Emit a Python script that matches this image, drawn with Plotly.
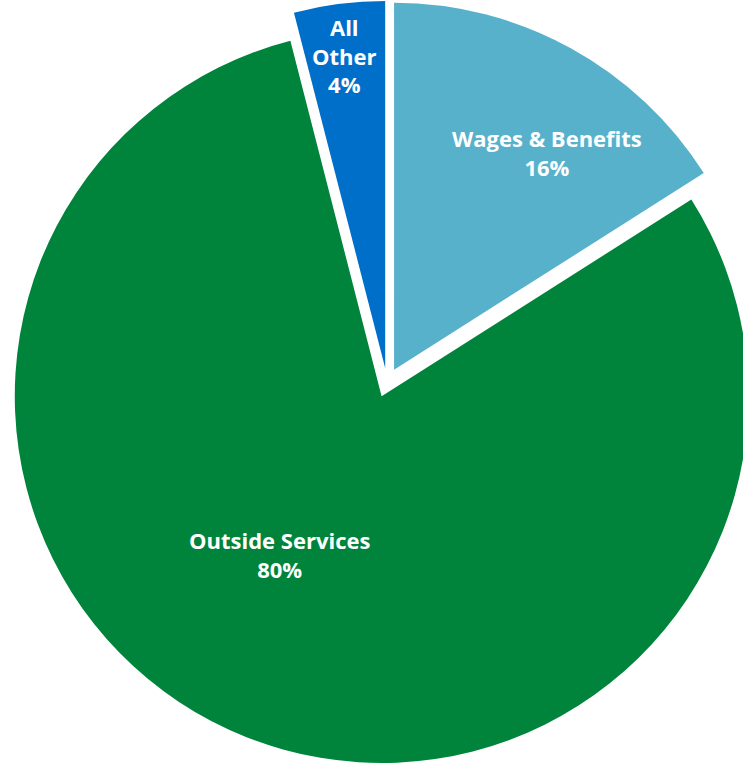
import plotly.graph_objects as go

# Expense breakdown
categories = ["Wages & Benefits", "Outside Services", "All Other"]
shares = [16, 80, 4]
slice_colors = ["#58B1CB", "#00843C", "#006FC9"]

# Label lines for each slice (category text split over lines) and label anchors in pixels
label_lines = [["Wages & Benefits"], ["Outside Services"], ["All", "Other"]]
label_px = [(547, 152), (279, 556), (344, 55)]

W, H = 774, 766

fig = go.Figure(
    go.Pie(
        labels=categories,
        values=shares,
        sort=False,
        direction="clockwise",
        rotation=0,
        pull=[0.04, 0.04, 0.04],
        marker=dict(colors=slice_colors, line=dict(width=0)),
        textinfo="none",
        hoverinfo="label+percent",
        showlegend=False,
        domain=dict(x=[0, 1], y=[0, 1]),
    )
)

total = sum(shares)
for lines, value, (px, py) in zip(label_lines, shares, label_px):
    pct = round(100 * value / total)
    text = "<br>".join(f"<b>{s}</b>" for s in lines + [f"{pct}%"])
    fig.add_annotation(
        x=px / W,
        y=1 - py / H,
        xref="paper",
        yref="paper",
        text=text,
        showarrow=False,
        xanchor="center",
        yanchor="middle",
        align="center",
        font=dict(family="Open Sans", size=22, color="white"),
    )

fig.update_layout(
    width=W,
    height=H,
    margin=dict(l=0, r=0, t=1, b=2),
    paper_bgcolor="white",
    plot_bgcolor="white",
)

fig.write_html(
    "out.html",
    config={"displayModeBar": False},
    post_script=(
        "document.documentElement.style.overflow='hidden';"
        "document.body.style.overflow='hidden';"
        "document.body.style.margin='0';"
    ),
)
